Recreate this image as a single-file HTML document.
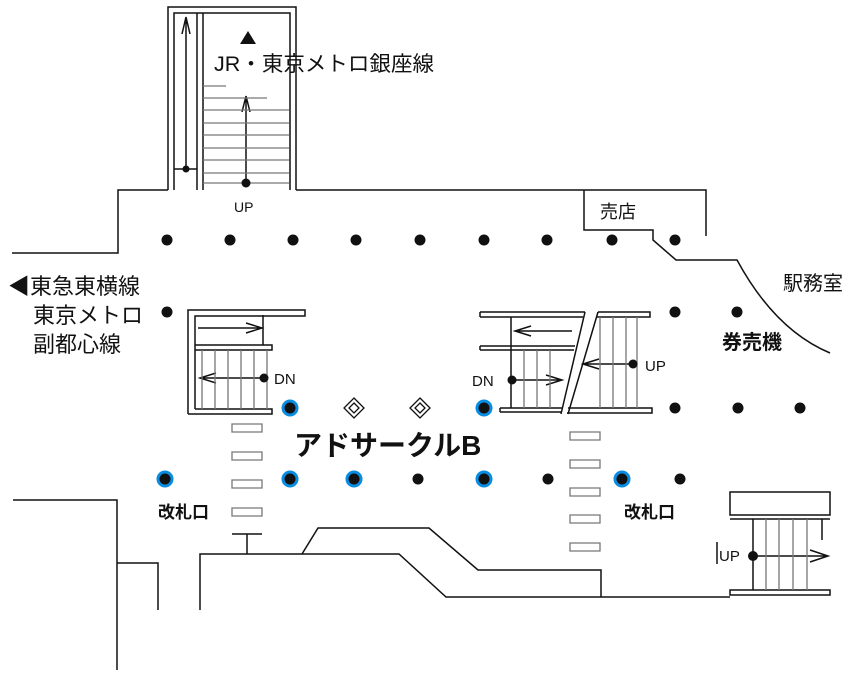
<!DOCTYPE html>
<html><head><meta charset="utf-8"><style>
html,body{margin:0;padding:0;background:#fff;width:848px;height:673px;overflow:hidden}
svg{display:block}
text{font-family:"Liberation Sans","Noto Sans CJK JP",sans-serif;fill:#111}
</style></head><body>
<svg width="848" height="673" viewBox="0 0 848 673" xmlns="http://www.w3.org/2000/svg">
<g fill="none" stroke="#111" stroke-width="1.5">
<path d="M168 190V7H296V190"/>
<path d="M174 190V13H290V190"/>
<path d="M197 190V13M203 190V13"/>
<path d="M174 169H197"/>
<path d="M186 169V17M182 34L186 17L190 34"/>
<path d="M246 183V96M242 112L246 96L250 112"/>
<path d="M12 253H118V190H168M296 190H706V236"/>
<path d="M584 190V230H653V240L676 260H737Q775 330 830 353"/>
<path d="M188 414V310H305V316H195V409"/>
<path d="M195 409H272V414H188"/>
<path d="M195 345H272V350H195"/>
<path d="M263 315V345"/>
<path d="M198 328H262M246 323L262 328L246 333"/>
<path d="M264 378H200M216 373L200 378L216 383"/>
<path d="M480 312H585M480 317H583M480 312V317"/>
<path d="M598 312H650V317H597"/>
<path d="M585 312L561 414M598 312L568 414"/>
<path d="M480 346H575M480 350H574M480 346V350"/>
<path d="M572 331H515M531 326L515 331L531 336"/>
<path d="M511 317V408"/>
<path d="M512 380H562M546 375L562 380L546 385"/>
<path d="M633 364H583M599 359L583 364L599 369"/>
<path d="M500 408H562M500 412H561M500 408V412M568 408H652V413H567"/>
<path d="M13 500H117V670M117 563H158V610"/>
<path d="M200 610V554H399L446 597H730"/>
<path d="M247 534V554M232 534H262"/>
<path d="M302 554L318 528H429L478 570H601V597"/>
<path d="M730 492H830V515H730ZM730 519H830"/>
<path d="M730 590H830V595H730Z"/>
<path d="M753 519V590"/>
<path d="M753 556H828M810 550L828 556L810 562"/>
<path d="M717 542V564M822 519V540"/>
</g>
<g stroke="#777" stroke-width="1.3" fill="none">
<path d="M203 98H267M203 110H289M203 123H289M203 135H289M203 148H289M203 160H289M203 173H289M203 183H289M203 86H226"/>
<path d="M202 350V409M215 350V409M228 350V409M241 350V409M254 350V409M267 350V409"/>
<path d="M524 350V408M537 350V408M550 350V408"/>
<path d="M600 317V408M613 317V408M626 317V408M637 317V408"/>
<path d="M766 519V590M779 519V590M793 519V590M807 519V590"/>
<path d="M232 424h30v8h-30zM232 452h30v8h-30zM232 480h30v8h-30zM232 508h30v8h-30z"/>
<path d="M570 432h30v8h-30zM570 460h30v8h-30zM570 488h30v8h-30zM570 515h30v8h-30zM570 543h30v8h-30z"/>
</g>
<g fill="#111">
<circle cx="186" cy="169" r="3.5"/><circle cx="246" cy="183" r="4.5"/>
<circle cx="264" cy="378" r="4.5"/><circle cx="512" cy="380" r="4.5"/><circle cx="633" cy="364" r="4.5"/><circle cx="753" cy="556" r="5"/>
<circle cx="167" cy="240" r="5.5"/><circle cx="230" cy="240" r="5.5"/><circle cx="293" cy="240" r="5.5"/><circle cx="356" cy="240" r="5.5"/><circle cx="420" cy="240" r="5.5"/><circle cx="484" cy="240" r="5.5"/><circle cx="547" cy="240" r="5.5"/><circle cx="612" cy="240" r="5.5"/><circle cx="675" cy="240" r="5.5"/>
<circle cx="167" cy="312" r="5.5"/><circle cx="675" cy="312" r="5.5"/><circle cx="737" cy="312" r="5.5"/>
<circle cx="675" cy="408" r="5.5"/><circle cx="738" cy="408" r="5.5"/><circle cx="800" cy="408" r="5.5"/>
<circle cx="418" cy="479" r="5.5"/><circle cx="548" cy="479" r="5.5"/><circle cx="680" cy="479" r="5.5"/>
<g stroke="#0a8de0" stroke-width="3">
<circle cx="290" cy="408" r="7"/><circle cx="484" cy="408" r="7"/>
<circle cx="165" cy="479" r="7"/><circle cx="290" cy="479" r="7"/><circle cx="354" cy="479" r="7"/><circle cx="484" cy="479" r="7"/><circle cx="622" cy="479" r="7"/>
</g>
</g>
<g fill="none" stroke="#111" stroke-width="1.3">
<path d="M354 398L364 408L354 418L344 408Z M354 403L359 408L354 413L349 408Z"/>
<path d="M420 398L430 408L420 418L410 408Z M420 403L425 408L420 413L415 408Z"/>
</g>
<path d="M248 31L256 44H240Z" fill="#111"/>
<text x="214" y="71" font-size="21" textLength="220" lengthAdjust="spacingAndGlyphs">JR・東京メトロ銀座線</text>
<text x="234" y="212" font-size="14">UP</text>
<text x="600" y="218" font-size="18">売店</text>
<text x="783" y="290" font-size="20">駅務室</text>
<text x="722" y="349" font-size="20" font-weight="bold">券売機</text>
<text x="8" y="294" font-size="22">◀東急東横線</text>
<text x="33" y="323" font-size="22">東京メトロ</text>
<text x="33" y="352" font-size="22">副都心線</text>
<text x="274" y="384" font-size="15">DN</text>
<text x="472" y="386" font-size="15">DN</text>
<text x="645" y="371" font-size="15">UP</text>
<text x="719" y="561" font-size="15">UP</text>
<text x="294" y="455" font-size="28" font-weight="bold">アドサークルB</text>
<text x="158" y="518" font-size="17" font-weight="bold">改札口</text>
<text x="624" y="518" font-size="17" font-weight="bold">改札口</text>
</svg>
</body></html>
